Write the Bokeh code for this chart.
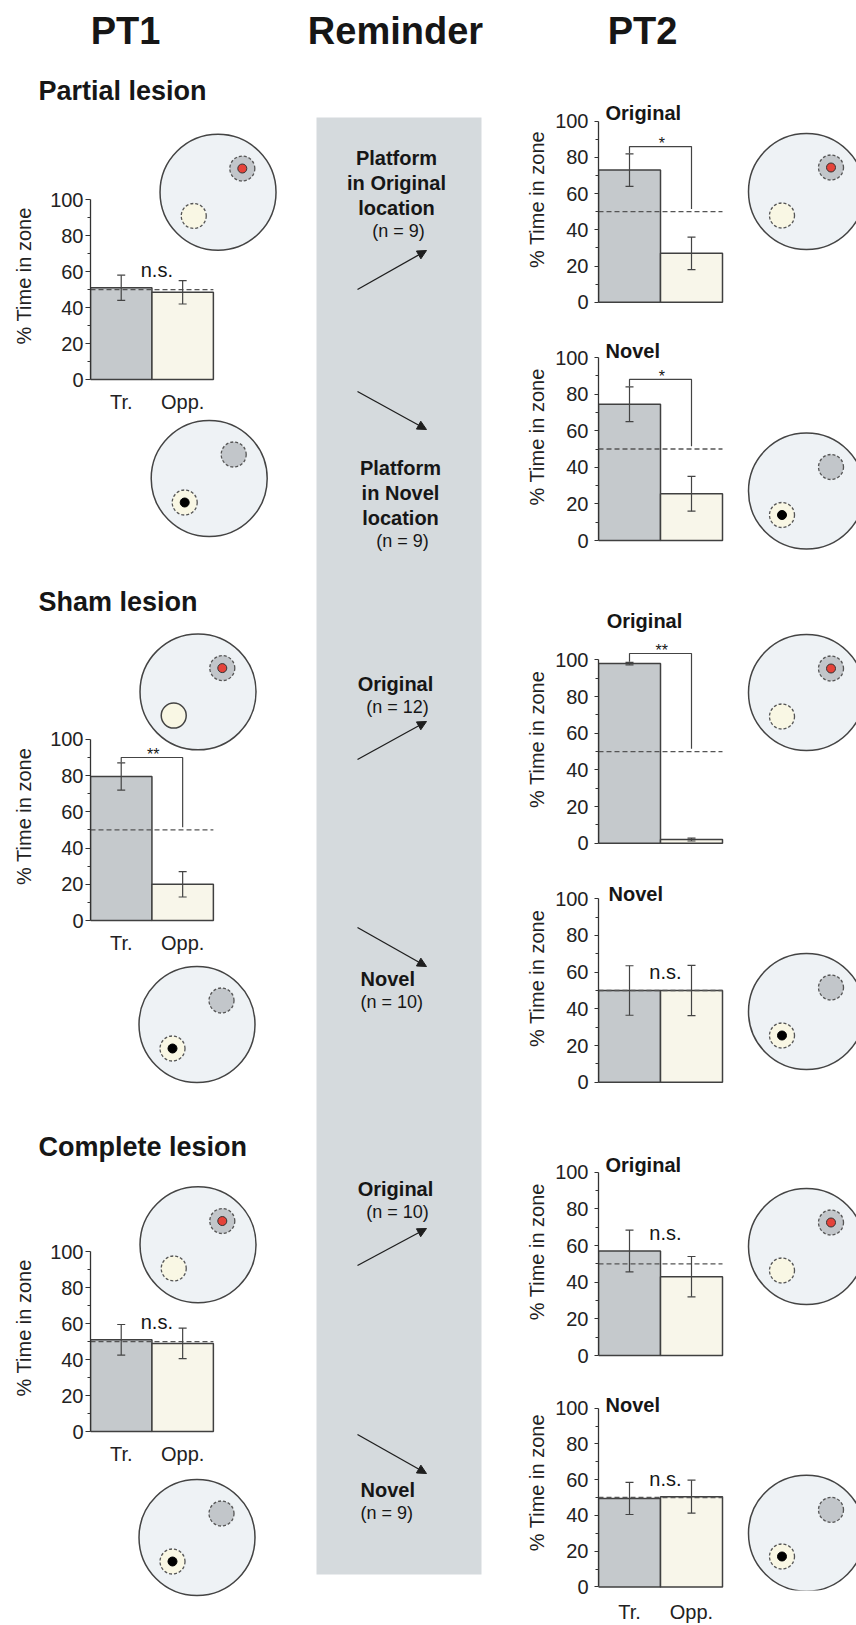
from bokeh.plotting import figure
from bokeh.models import (Range1d, FixedTicker, Whisker, TeeHead, ColumnDataSource,
                          Arrow, NormalHead, Title)
from bokeh.layouts import row, column
from bokeh.core.properties import value
from bokeh.embed import file_html
from bokeh.resources import INLINE

# ---------------- data ----------------
categories = ["Tr.", "Opp."]
chance_level = 50

# PT1 (first probe test), mean % time in zone and SEM
pt1_partial_mean = [51.0, 48.5]
pt1_partial_sem = [7.0, 6.5]
pt1_sham_mean = [79.5, 20.0]
pt1_sham_sem = [7.5, 7.0]
pt1_complete_mean = [51.0, 49.0]
pt1_complete_sem = [8.5, 8.5]

# PT2 (second probe test)
pt2_partial_orig_mean = [73.0, 27.0]
pt2_partial_orig_sem = [9.0, 9.0]
pt2_partial_novel_mean = [74.5, 25.5]
pt2_partial_novel_sem = [9.5, 9.5]
pt2_sham_orig_mean = [98.0, 2.0]
pt2_sham_orig_sem = [0.7, 0.8]
pt2_sham_novel_mean = [50.0, 50.0]
pt2_sham_novel_sem = [13.5, 13.7]
pt2_complete_orig_mean = [57.0, 43.0]
pt2_complete_orig_sem = [11.4, 11.0]
pt2_complete_novel_mean = [49.5, 50.5]
pt2_complete_novel_sem = [9.0, 9.2]

# significance labels and bracket heights (None = no bracket)
pt1_sig = ["n.s.", "**", "n.s."]
pt1_bracket = [None, 90, None]
pt2_sig = ["*", "*", "**", "n.s.", "n.s.", "n.s."]
pt2_bracket = [86, 88, 103.5, None, None, None]

group_titles = ["Partial lesion", "Sham lesion", "Complete lesion"]
pt2_titles = ["Original", "Novel", "Original", "Novel", "Original", "Novel"]
reminder_labels = [["Platform", "in Original", "location"], ["Platform", "in Novel", "location"],
                   ["Original"], ["Novel"], ["Original"], ["Novel"]]
group_n = [9, 9, 12, 10, 10, 9]
ytick_values = [0, 20, 40, 60, 80, 100]
yminor_values = [10, 30, 50, 70, 90]
y_label = "% Time in zone"

# ---------------- style ----------------
FONT = "Liberation Sans"
TXT = "#161616"
AX = "#333333"
TR_FILL = "#c5c9cc"
OPP_FILL = "#f8f6ea"
BAR_LINE = "#404040"
POOL_FILL = "#eef2f5"
BAND = "#d5dadd"
ZONE_GRAY = "#c2c6ca"
ZONE_CREAM = "#f9f7e4"
RED = "#e5433a"
BAR_PX = 62.0
YLABEL_LEN = 137.8   # rendered length of the y-axis title at 20px


def base_fig(width, height, **kw):
    p = figure(width=width, height=height, output_backend="svg", toolbar_location=None, **kw)
    p.title.visible = False
    p.outline_line_color = None
    p.xgrid.visible = False
    p.ygrid.visible = False
    p.background_fill_color = "white"
    p.border_fill_color = "white"
    return p


def px_fig(x0, x1, y_top, y_bot):
    """A figure without axes whose data units are page pixels."""
    p = base_fig(int(x1 - x0), int(y_bot - y_top), x_range=Range1d(x0, x1),
                 y_range=Range1d(y_bot, y_top), x_axis_location=None, y_axis_location=None,
                 min_border=0, frame_align=False)
    return p


def text(p, x, y, s, size, bold=False, align="left", rn="default", color=TXT):
    p.text(x=[x], y=[y], text=[s], text_font=value(FONT), text_font_size=f"{size}px",
           text_font_style="bold" if bold else "normal", text_align=align,
           text_baseline="middle", text_color=color, x_range_name=rn, y_range_name=rn)


def pool(p, cx, cy, kind, rn="default"):
    kw = dict(x_range_name=rn, y_range_name=rn)
    p.scatter([cx], [cy], size=116, marker="circle", fill_color=POOL_FILL,
              line_color="#444444", line_width=1.5, **kw)
    tx, ty = cx + 24.5, cy - 24
    ox, oy = cx - 24.5, cy + 24
    dashed = dict(line_color="#555555", line_dash="3 2", line_width=1.3)
    if kind in ("orig", "orig_solid"):
        p.scatter([tx], [ty], size=25, fill_color=ZONE_GRAY, **dashed, **kw)
        p.scatter([tx], [ty], size=9, fill_color=RED, line_color="#333333", line_width=1, **kw)
        if kind == "orig":
            p.scatter([ox], [oy], size=25, fill_color=ZONE_CREAM, **dashed, **kw)
        else:
            p.scatter([ox], [oy], size=25, fill_color=ZONE_CREAM, line_color="#444444",
                      line_width=1.5, **kw)
    else:
        p.scatter([tx], [ty], size=25, fill_color=ZONE_GRAY, **dashed, **kw)
        p.scatter([ox], [oy], size=25, fill_color=ZONE_CREAM, **dashed, **kw)
        p.scatter([ox], [oy], size=9, fill_color="black", line_color="black", **kw)


def bar_chart(width, border_left, frame_left, frame_right, top, frame_bottom, border_bottom,
              y0, ppu, means, sems, sig, bracket, xlabels, tick_standoff, tick_out,
              title_standoff, label_lift, x_standoff=2):
    height = int(frame_bottom - top + border_bottom)
    fw = frame_right - frame_left
    p = base_fig(width, height,
                 x_range=Range1d(0.5, 0.5 + fw / BAR_PX),
                 y_range=Range1d((y0 - frame_bottom) / ppu, (y0 - top) / ppu),
                 x_axis_location="below" if xlabels else None, y_axis_location="left",
                 min_border_left=border_left, min_border_right=0, min_border_top=0,
                 min_border_bottom=border_bottom)
    p.extra_x_ranges = {"px": Range1d(frame_left, frame_right)}
    p.extra_y_ranges = {"px": Range1d(frame_bottom, top)}

    ax = p.yaxis[0]
    ax.bounds = (0, 100)
    ax.ticker = FixedTicker(ticks=ytick_values, minor_ticks=yminor_values)
    ax.major_tick_out = tick_out
    ax.major_tick_in = 0
    ax.minor_tick_out = 3
    ax.minor_tick_in = 0
    ax.axis_line_color = AX
    ax.axis_line_width = 1.3
    ax.major_tick_line_color = AX
    ax.minor_tick_line_color = AX
    ax.major_label_text_font = FONT
    ax.major_label_text_font_size = "20px"
    ax.major_label_text_color = "#222222"
    ax.major_label_standoff = tick_standoff

    # y-axis title: centred a little above the middle of the 0-100 span, as in the original
    want_mid = (y0 + (y0 - 100 * ppu)) / 2 - label_lift
    p.add_layout(Title(text=y_label, align="left", vertical_align="middle",
                       offset=frame_bottom - (want_mid + YLABEL_LEN / 2),
                       standoff=title_standoff,
                       text_font=FONT, text_font_size="20px", text_font_style="normal",
                       text_color="#222222"), "left")

    if xlabels:
        xa = p.xaxis[0]
        xa.ticker = FixedTicker(ticks=[1, 2])
        xa.major_label_overrides = {1: categories[0], 2: categories[1]}
        xa.axis_line_color = None
        xa.major_tick_line_color = None
        xa.minor_tick_line_color = None
        xa.major_label_text_font = FONT
        xa.major_label_text_font_size = "20px"
        xa.major_label_text_color = "#222222"
        xa.major_label_standoff = x_standoff

    src = ColumnDataSource(dict(
        x=[1, 2], top=means,
        upper=[m + s for m, s in zip(means, sems)],
        lower=[m - s for m, s in zip(means, sems)],
        color=[TR_FILL, OPP_FILL]))
    p.vbar(x="x", top="top", bottom=0, width=1, fill_color="color", line_color=BAR_LINE,
           line_width=1.5, source=src)
    p.segment(x0=[0.5], y0=[chance_level], x1=[2.5], y1=[chance_level], line_color="#555555",
              line_dash="5 3", line_width=1.3)
    w = Whisker(source=src, base="x", upper="upper", lower="lower",
                line_color="#444444", line_width=1.2,
                upper_head=TeeHead(size=8, line_color="#444444", line_width=1.2),
                lower_head=TeeHead(size=8, line_color="#444444", line_width=1.2))
    w.level = "overlay"
    p.add_layout(w)
    if bracket is not None:
        p.line(x=[1, 1, 2, 2], y=[means[0] + sems[0] + 0.3, bracket, bracket, chance_level + 1.5],
               line_color="#444444", line_width=1.2)
        p.text(x=[1.52], y=[bracket + 1.5], text=[sig], text_font=value(FONT),
               text_font_size="16px", text_align="center", text_baseline="middle",
               text_color=TXT)
    else:
        p.text(x=[1.58], y=[max(means) + 10], text=[sig], text_font=value(FONT),
               text_font_size="20px", text_align="center", text_baseline="middle",
               text_color=TXT)
    return p


# ---------------- left column (PT1) ----------------
LW = 308
LB = 88
lchart_kw = dict(width=LW, border_left=LB, frame_left=LB, frame_right=LW, border_bottom=30,
                 xlabels=True, tick_standoff=2, tick_out=5, title_standoff=23, label_lift=13)

L0 = px_fig(0, LW, 0, 128)
text(L0, 125, 30, "PT1", 38, bold=True, align="center")
text(L0, 38, 90, group_titles[0], 27, bold=True)

L1 = bar_chart(top=128, frame_bottom=385, y0=382, ppu=1.82, means=pt1_partial_mean,
               sems=pt1_partial_sem, sig=pt1_sig[0], bracket=pt1_bracket[0], **lchart_kw)
pool(L1, 216.7, 192.5, "orig", rn="px")

L2 = px_fig(0, LW, 415, 628)
pool(L2, 208.7, 478, "novel")
text(L2, 38, 601, group_titles[1], 27, bold=True)

L3 = bar_chart(top=628, frame_bottom=926, y0=923, ppu=1.83, means=pt1_sham_mean,
               sems=pt1_sham_sem, sig=pt1_sig[1], bracket=pt1_bracket[1], **lchart_kw)
pool(L3, 196.5, 692, "orig_solid", rn="px")

L4 = px_fig(0, LW, 956, 1181)
pool(L4, 196.5, 1024, "novel")
text(L4, 38, 1146, group_titles[2], 27, bold=True)

L5 = bar_chart(top=1181, frame_bottom=1437, y0=1434, ppu=1.82, means=pt1_complete_mean,
               sems=pt1_complete_sem, sig=pt1_sig[2], bracket=pt1_bracket[2], **lchart_kw)
pool(L5, 196.5, 1245, "orig", rn="px")

L6 = px_fig(0, LW, 1467, 1625)
pool(L6, 196.5, 1537, "novel")

left_col = column(L0, L1, L2, L3, L4, L5, L6, spacing=0)

# ---------------- middle column (Reminder) ----------------
M = px_fig(308, 505, 0, 1625)
M.quad(left=[316], right=[481], top=[117], bottom=[1574], fill_color=BAND, line_color=None)
text(M, 395, 30, "Reminder", 38, bold=True, align="center")

block_pos = [(396, 157, "center"), (400, 467, "center"), (395, 683, "center"),
             (360, 978, "left"), (395, 1188, "center"), (360, 1489, "left")]
for lines, (bx, by, al), n in zip(reminder_labels, block_pos, group_n):
    for i, s in enumerate(lines):
        text(M, bx, by + 25 * i, s, 20, bold=True, align=al)
    ny = by + 25 * (len(lines) - 1) + 23
    nx = bx + 2 if al == "center" else bx
    text(M, nx, ny, f"(n = {n})", 18, align=al)

arrows = [((357, 289), (426, 250)), ((357, 391), (426, 429)), ((357, 759), (426, 721)),
          ((357, 927), (426, 966)), ((357, 1265), (426, 1228)), ((357, 1434), (426, 1473))]
for (xs, ys), (xe, ye) in arrows:
    M.add_layout(Arrow(x_start=xs, y_start=ys, x_end=xe, y_end=ye, line_color="#1e1e1e",
                       line_width=1.3,
                       end=NormalHead(size=9, fill_color="#1e1e1e", line_color="#1e1e1e",
                                      line_width=1)))

# ---------------- right column (PT2) ----------------
RX0, RW = 505, 351
rchart_kw = dict(width=RW, border_left=93, frame_left=598, frame_right=856,
                 tick_standoff=6, tick_out=4, title_standoff=8, label_lift=12.5)
pt2_means = [pt2_partial_orig_mean, pt2_partial_novel_mean, pt2_sham_orig_mean,
             pt2_sham_novel_mean, pt2_complete_orig_mean, pt2_complete_novel_mean]
pt2_sems = [pt2_partial_orig_sem, pt2_partial_novel_sem, pt2_sham_orig_sem,
            pt2_sham_novel_sem, pt2_complete_orig_sem, pt2_complete_novel_sem]
# frame top, frame bottom, bottom border, y of 0 %, px per %
rgeom = [(67, 330, 0, 301.7, 1.81), (330, 590, 0, 540, 1.83), (590, 870, 0, 842.7, 1.833),
         (870, 1135, 0, 1081.7, 1.834), (1135, 1385, 0, 1355, 1.833),
         (1385, 1596, 29, 1592.3, 1.84)]
title_pos = [(605, 112, "left"), (605, 350, "left"), (644, 620, "center"),
             (608, 893, "left"), (605, 1164, "left"), (605, 1405, "left")]
pool_kind = ["orig", "novel", "orig", "novel", "orig", "novel"]
pool_y = [191, 490.5, 692, 1011, 1246, 1537]
POOL_X = 806

R0 = px_fig(RX0, RX0 + RW, 0, 67)
text(R0, 642, 30, "PT2", 38, bold=True, align="center")
right_figs = [R0]
for i in range(6):
    top, fb, bb, y0, ppu = rgeom[i]
    R = bar_chart(top=top, frame_bottom=fb, border_bottom=bb, y0=y0, ppu=ppu,
                  means=pt2_means[i], sems=pt2_sems[i], sig=pt2_sig[i],
                  bracket=pt2_bracket[i], xlabels=(i == 5), x_standoff=4, **rchart_kw)
    tx, ty, al = title_pos[i]
    text(R, tx, ty, pt2_titles[i], 20, bold=True, align=al, rn="px")
    pool(R, POOL_X, pool_y[i], pool_kind[i], rn="px")
    right_figs.append(R)

right_col = column(*right_figs, spacing=0)

layout = row(left_col, M, right_col, spacing=0)

with open("out.html", "w") as f:
    f.write(file_html(layout, INLINE))
